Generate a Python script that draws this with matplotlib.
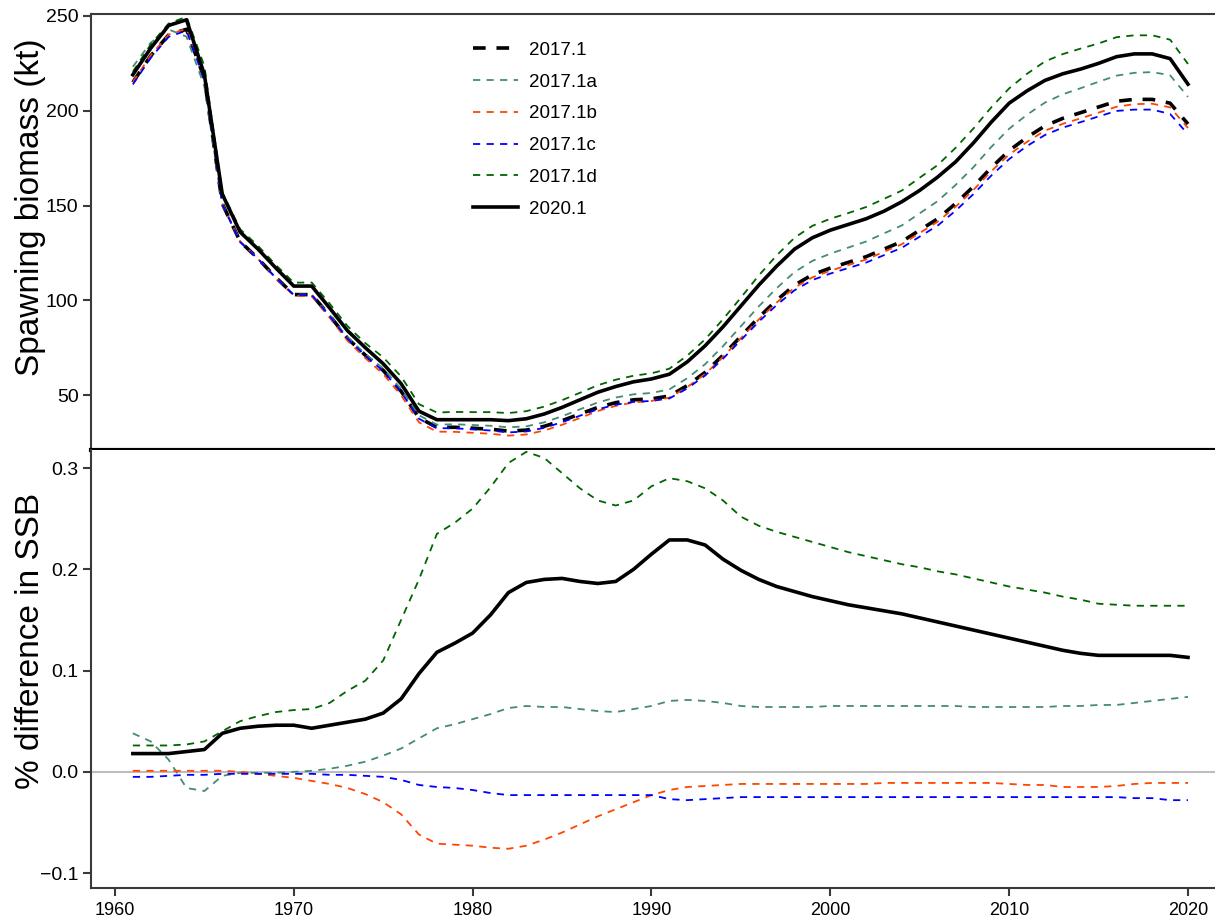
import matplotlib
matplotlib.use("Agg")
import matplotlib.pyplot as plt
import numpy as np

plt.rcParams['font.family'] = ['Liberation Sans', 'DejaVu Sans']

years = list(range(1961, 2021))

# spawning biomass (kt)
ssb_2017_1 = [215, 229, 240, 243, 217, 151, 131, 122, 112, 103,
              103, 92, 80, 71, 63, 52, 38, 33, 33, 32.5,
              32, 31, 31.5, 33.5, 36.5, 40, 43.5, 46, 47.5, 48,
              49.5, 55, 62, 71, 81, 91, 100, 108, 113.5, 117,
              120, 123, 127, 131, 137, 143, 151, 160, 170, 179,
              186, 192, 196, 199, 202, 205, 206, 206, 204, 193]
ssb_2017_1a = [223.2, 235.9, 242.9, 239.1, 212.9, 150.4, 130.9, 121.9, 111.9, 103,
               103.1, 92.3, 80.5, 71.7, 64, 53.2, 39.3, 34.4, 34.6, 34.2,
               33.8, 33, 33.5, 35.6, 38.8, 42.5, 46.1, 48.7, 50.4, 51.1,
               53, 58.9, 66.3, 75.8, 86.3, 96.8, 106.4, 114.9, 120.8, 124.6,
               127.8, 131, 135.3, 139.5, 145.9, 152.3, 160.8, 170.2, 180.9, 190.5,
               197.9, 204.3, 208.7, 211.9, 215.3, 218.5, 220, 220.4, 218.7, 207.3]
ssb_2017_1b = [215.2, 229.2, 240.2, 243.2, 217.2, 151.2, 131.1, 121.8, 111.6, 102.4,
               102.1, 90.9, 78.7, 69.5, 61.1, 49.9, 35.6, 30.7, 30.6, 30.1,
               29.6, 28.6, 29.2, 31.3, 34.3, 37.9, 41.6, 44.3, 46.1, 46.9,
               48.6, 54.2, 61.1, 70.1, 80, 89.9, 98.8, 106.7, 112.1, 115.6,
               118.6, 121.5, 125.6, 129.6, 135.5, 141.4, 149.3, 158.2, 168.1, 176.9,
               183.6, 189.5, 193.1, 196, 199, 202.1, 203.5, 203.7, 201.8, 190.9]
ssb_2017_1c = [213.9, 227.9, 239, 242.3, 216.3, 150.7, 130.7, 121.8, 111.8, 102.8,
               102.8, 91.7, 79.8, 70.7, 62.7, 51.6, 37.5, 32.5, 32.5, 31.9,
               31.3, 30.3, 30.8, 32.7, 35.7, 39.1, 42.5, 44.9, 46.4, 46.9,
               48.2, 53.5, 60.3, 69.2, 79, 88.7, 97.5, 105.3, 110.7, 114.1,
               117, 119.9, 123.8, 127.7, 133.6, 139.4, 147.2, 156, 165.8, 174.5,
               181.4, 187.2, 191.1, 194, 197, 199.9, 200.6, 200.6, 198.3, 187.6]
ssb_2017_1d = [220.6, 235, 246, 249.6, 223.5, 157, 137.5, 128.7, 118.6, 109.3,
               109.4, 98.3, 86.4, 77.4, 69.9, 59.8, 45.2, 40.8, 41.1, 41,
               41, 40.5, 41.5, 43.9, 47.3, 51.2, 55.2, 58.1, 60.2, 61.5,
               63.9, 70.8, 79.4, 90, 101.4, 113.1, 123.7, 133, 139.3, 143,
               146, 149.2, 153.5, 157.9, 164.7, 171.3, 180.4, 190.6, 201.8, 211.8,
               219.5, 226, 229.9, 232.8, 235.5, 238.8, 239.8, 239.8, 237.5, 224.7]
ssb_2020_1 = [219, 233, 245, 248, 219, 156, 136, 127, 117, 107.5,
              107.5, 96, 84, 75, 66.5, 56, 41.5, 37, 37, 37,
              37, 36.5, 37.5, 40, 43.5, 47.5, 51.5, 54.5, 57, 58.5,
              61, 67.5, 76, 86, 97, 108, 118, 127, 133, 137,
              140, 143, 147, 152, 158, 165, 173, 183, 194, 204,
              210.5, 216, 219.5, 222, 225, 228.5, 230, 230, 227.5, 214]

# difference in SSB relative to 2017.1
diff_2017_1a = [0.038, 0.03, 0.012, -0.016, -0.019, -0.004, -0.001, -0.001, -0.001, 0.0,
                0.001, 0.003, 0.006, 0.01, 0.016, 0.023, 0.033, 0.043, 0.047, 0.052,
                0.057, 0.063, 0.065, 0.064, 0.064, 0.062, 0.06, 0.059, 0.062, 0.065,
                0.07, 0.071, 0.07, 0.068, 0.065, 0.064, 0.064, 0.064, 0.064, 0.065,
                0.065, 0.065, 0.065, 0.065, 0.065, 0.065, 0.065, 0.064, 0.064, 0.064,
                0.064, 0.064, 0.065, 0.065, 0.066, 0.066, 0.068, 0.07, 0.072, 0.074]
diff_2017_1b = [0.001, 0.001, 0.001, 0.001, 0.001, 0.001, 0.0, -0.002, -0.004, -0.006,
                -0.009, -0.012, -0.016, -0.022, -0.03, -0.042, -0.062, -0.071, -0.072, -0.073,
                -0.075, -0.076, -0.073, -0.067, -0.06, -0.052, -0.044, -0.037, -0.03, -0.023,
                -0.018, -0.015, -0.014, -0.013, -0.012, -0.012, -0.012, -0.012, -0.012, -0.012,
                -0.012, -0.012, -0.011, -0.011, -0.011, -0.011, -0.011, -0.011, -0.011, -0.012,
                -0.013, -0.013, -0.015, -0.015, -0.015, -0.014, -0.012, -0.011, -0.011, -0.011]
diff_2017_1c = [-0.005, -0.005, -0.004, -0.003, -0.003, -0.002, -0.002, -0.002, -0.002, -0.002,
                -0.002, -0.003, -0.003, -0.004, -0.005, -0.008, -0.013, -0.015, -0.016, -0.018,
                -0.021, -0.023, -0.023, -0.023, -0.023, -0.023, -0.023, -0.023, -0.023, -0.023,
                -0.027, -0.028, -0.027, -0.026, -0.025, -0.025, -0.025, -0.025, -0.025, -0.025,
                -0.025, -0.025, -0.025, -0.025, -0.025, -0.025, -0.025, -0.025, -0.025, -0.025,
                -0.025, -0.025, -0.025, -0.025, -0.025, -0.025, -0.026, -0.026, -0.028, -0.028]
diff_2017_1d = [0.026, 0.026, 0.026, 0.027, 0.03, 0.04, 0.05, 0.055, 0.059, 0.061,
                0.062, 0.068, 0.08, 0.09, 0.11, 0.15, 0.19, 0.235, 0.246, 0.26,
                0.281, 0.305, 0.316, 0.31, 0.295, 0.28, 0.268, 0.263, 0.268, 0.282,
                0.29, 0.287, 0.28, 0.268, 0.252, 0.243, 0.237, 0.232, 0.227, 0.222,
                0.217, 0.213, 0.209, 0.205, 0.202, 0.198, 0.195, 0.191, 0.187, 0.183,
                0.18, 0.177, 0.173, 0.17, 0.166, 0.165, 0.164, 0.164, 0.164, 0.164]
diff_2020_1 = [0.018, 0.018, 0.018, 0.02, 0.022, 0.038, 0.043, 0.045, 0.046, 0.046,
               0.043, 0.046, 0.049, 0.052, 0.058, 0.072, 0.097, 0.118, 0.127, 0.137,
               0.155, 0.177, 0.187, 0.19, 0.191, 0.188, 0.186, 0.188, 0.2, 0.215,
               0.229, 0.229, 0.224, 0.21, 0.199, 0.19, 0.183, 0.178, 0.173, 0.169,
               0.165, 0.162, 0.159, 0.156, 0.152, 0.148, 0.144, 0.14, 0.136, 0.132,
               0.128, 0.124, 0.12, 0.117, 0.115, 0.115, 0.115, 0.115, 0.115, 0.113]

c_a = '#458B74'
c_b = '#FF4500'
c_c = '#0000FF'
c_d = '#006400'
spine_col = '#3a3a3a'

fig = plt.figure(figsize=(12.15, 9.19), dpi=100)
ax1 = fig.add_axes([0.0749, 0.5103, 0.9251, 0.4745])
ax2 = fig.add_axes([0.0749, 0.0337, 0.9251, 0.4766])

thin = dict(lw=1.3, dashes=(4, 3.5))
ax1.plot(years, ssb_2017_1, color='black', lw=2.6, dashes=(3.5, 3), label='2017.1')
ax1.plot(years, ssb_2017_1a, color=c_a, label='2017.1a', **thin)
ax1.plot(years, ssb_2017_1b, color=c_b, label='2017.1b', **thin)
ax1.plot(years, ssb_2017_1c, color=c_c, label='2017.1c', **thin)
ax1.plot(years, ssb_2017_1d, color=c_d, label='2017.1d', **thin)
ax1.plot(years, ssb_2020_1, color='black', lw=2.6, label='2020.1')

ax1.set_xlim(1958.66, 2021.51)
ax1.set_ylim(21, 251.06)
ax1.set_yticks([50, 100, 150, 200, 250])
ax1.set_xticks([])
ax1.set_ylabel('Spawning biomass (kt)', fontsize=24)
ax1.yaxis.set_label_coords(-0.040, 0.557)

leg = ax1.legend(loc='upper left', bbox_to_anchor=(0.325, 0.975), frameon=False,
                 fontsize=13.5, handlelength=2.4, handletextpad=0.6, labelspacing=0.78)

ax2.axhline(0, color='#bdbdbd', lw=1.5, zorder=1)
ax2.plot(years, diff_2017_1a, color=c_a, **thin)
ax2.plot(years, diff_2017_1b, color=c_b, **thin)
ax2.plot(years, diff_2017_1c, color=c_c, **thin)
ax2.plot(years, diff_2017_1d, color=c_d, **thin)
ax2.plot(years, diff_2020_1, color='black', lw=2.6)

ax2.set_xlim(1958.66, 2021.51)
ax2.set_ylim(-0.1148, 0.3178)
ax2.set_yticks([-0.1, 0.0, 0.1, 0.2, 0.3])
ax2.set_yticklabels(['\u22120.1', '0.0', '0.1', '0.2', '0.3'])
ax2.set_xticks([1960, 1970, 1980, 1990, 2000, 2010, 2020])
ax2.set_ylabel('% difference in SSB', fontsize=24)
ax2.yaxis.set_label_coords(-0.040, 0.564)

for ax in (ax1, ax2):
    ax.spines['right'].set_visible(False)
    for s in ax.spines.values():
        s.set_color(spine_col)
        s.set_linewidth(1.5)
    ax.tick_params(axis='y', labelsize=14, length=6, width=1.5, color=spine_col, pad=3)
    ax.tick_params(axis='x', labelsize=13, length=6, width=1.5, color=spine_col, pad=4)

ax1.spines['bottom'].set_color('black')
ax1.spines['bottom'].set_linewidth(3)
ax2.spines['top'].set_visible(False)

fig.savefig('out.png', dpi=100)
